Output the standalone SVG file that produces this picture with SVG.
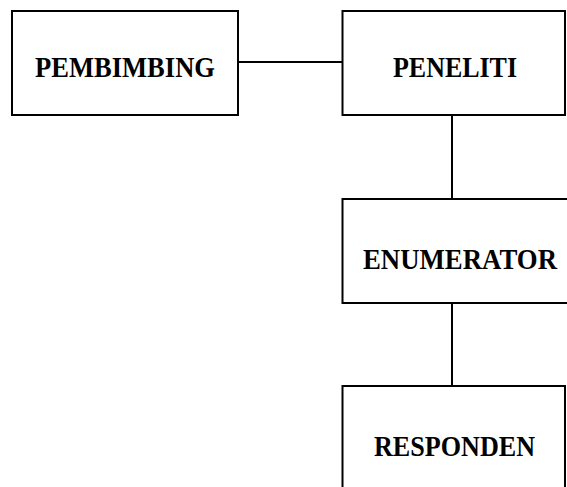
<svg xmlns="http://www.w3.org/2000/svg" width="567" height="487" viewBox="0 0 567 487">
<style>
.box{fill:#fff;stroke:#000;stroke-width:2}
.lbl{font-family:"Liberation Serif","Times New Roman",serif;font-weight:bold;font-size:30px;fill:#000;text-anchor:middle}
.con{stroke:#000;stroke-width:2;fill:none}
</style>
<rect width="567" height="487" fill="#fff"/>
<g id="connectors">
<line class="con" x1="238" y1="62" x2="342" y2="62"/>
<line class="con" x1="452" y1="115" x2="452" y2="199"/>
<line class="con" x1="452" y1="303" x2="452" y2="386"/>
</g>
<g id="pembimbing">
<rect class="box" x="12" y="11" width="226" height="104"/>
<text class="lbl" x="125" y="77" textLength="180" lengthAdjust="spacingAndGlyphs">PEMBIMBING</text>
</g>
<g id="peneliti">
<rect class="box" x="342.5" y="11" width="222.5" height="104"/>
<text class="lbl" x="455" y="77" textLength="124" lengthAdjust="spacingAndGlyphs">PENELITI</text>
</g>
<g id="enumerator">
<path class="box" d="M567,199 H342.5 V303 H567"/>
<text class="lbl" x="460" y="269" textLength="194" lengthAdjust="spacingAndGlyphs">ENUMERATOR</text>
</g>
<g id="responden">
<path class="box" d="M342.5,487 V386 H565 V487"/>
<text class="lbl" x="454.5" y="456" textLength="161" lengthAdjust="spacingAndGlyphs">RESPONDEN</text>
</g>
</svg>
